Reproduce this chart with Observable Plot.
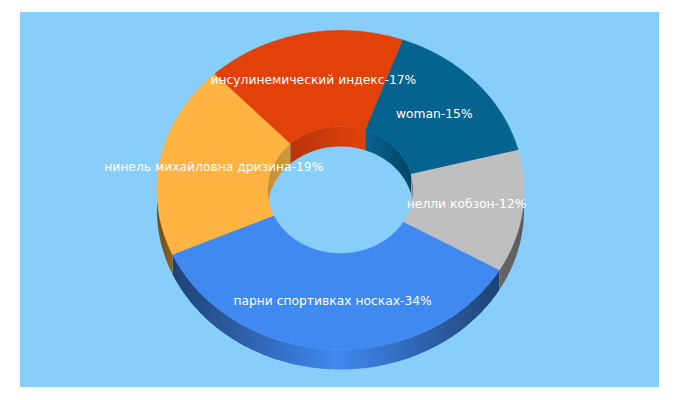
<!DOCTYPE html>
<html><head><meta charset="utf-8">
<style>html,body{margin:0;padding:0;background:#fff}svg{display:block}</style>
<script src="https://cdn.jsdelivr.net/npm/d3@7"></script>
<script src="https://cdn.jsdelivr.net/npm/@observablehq/plot@0.6"></script>
</head><body><div id="chart"></div>
<script>
const names = ["парни спортивках носках","нинель михайловна дризина","инсулинемический индекс","woman","нелли кобзон"];
const shares = [34,19,17,15,12];
const topColors = ["#4089f1","#ffb340","#e2410a","#05638f","#bfbfbf"];
const outerWall = [
  [[0,"#1f4274"],[.5,"#4089f1"],[1,"#1f4274"]],
  [[0,"#6b4c1c"],[1,"#8c6425"]],
  [[0,"#e2410a"],[1,"#e2410a"]],
  [[0,"#05638f"],[1,"#05638f"]],
  [[0,"#666666"],[1,"#5c5c5c"]]
];
const innerWall = [
  [[0,"#4089f1"],[1,"#4089f1"]],
  [[0,"#c98f35"],[1,"#c99a3c"]],
  [[0,"#b8340a"],[1,"#e2410a"]],
  [[0,"#05638f"],[1,"#044566"]],
  [[0,"#9a9a9a"],[1,"#7a7a7a"]]
];
const startAngle = 120, rx = 183.5, ry = 159.5, hx = 73, hy = 63.5, depth = 20;

const total = d3.sum(shares);
let acc = startAngle;
const slices = names.map((name,i)=>{
  const a0 = acc, a1 = acc + shares[i]/total*360; acc = a1;
  return {name, share:shares[i], a0, a1, i};
});
const pt = (a,rxx,ryy,dy=0)=>{const t=a*Math.PI/180;return {x:rxx*Math.sin(t),y:ryy*Math.cos(t)-dy};};
const arc = (a0,a1,rxx,ryy,dy=0)=>{
  const n=Math.max(2,Math.ceil(Math.abs(a1-a0)));
  return d3.range(n+1).map(k=>pt(a0+(a1-a0)*k/n,rxx,ryy,dy));
};
const overlap = (a0,a1,lo,hi)=>{
  for (const s of [-360,0,360]) {
    const b0=Math.max(a0,lo+s), b1=Math.min(a1,hi+s);
    if (b1>b0) return [b0,b1];
  }
  return null;
};
const wall = (s,lo,hi,rxx,ryy)=>{
  const o=overlap(s.a0,s.a1,lo,hi);
  return o?[...arc(o[0],o[1],rxx,ryy),...arc(o[1],o[0],rxx,ryy,depth)]:null;
};
const polyMark=(pts,fill,stroke)=>Plot.line(pts,{x:"x",y:"y",fill,stroke:stroke||"none",strokeWidth:stroke?0.6:0,curve:"linear"});

const defs = ()=>{
  const ns="http://www.w3.org/2000/svg";
  const d=document.createElementNS(ns,"defs");
  const add=(id,stops)=>{
    const g=document.createElementNS(ns,"linearGradient");
    g.setAttribute("id",id);
    for(const [o,c] of stops){
      const st=document.createElementNS(ns,"stop");
      st.setAttribute("offset",o);st.setAttribute("stop-color",c);g.appendChild(st);
    }
    d.appendChild(g);
  };
  outerWall.forEach((s,i)=>add("ow"+i,s));
  innerWall.forEach((s,i)=>add("iw"+i,s));
  return d;
};

const marks=[Plot.frame({fill:"#87cefa",stroke:"none"}),defs];
for(const s of slices){const p=wall(s,90,270,rx,ry); if(p) marks.push(polyMark(p,`url(#ow${s.i})`));}
for(const s of slices){const p=wall(s,-90,90,hx,hy); if(p) marks.push(polyMark(p,`url(#iw${s.i})`));}
for(const s of slices){
  marks.push(polyMark([...arc(s.a0,s.a1,rx,ry),...arc(s.a1,s.a0,hx,hy)],topColors[s.i],topColors[s.i]));
}
const labels=slices.map(s=>{
  const p=pt((s.a0+s.a1)/2,(rx+hx)/2,(ry+hy)/2);
  return {...p,text:`${s.name}-${s.share}%`};
});
marks.push(Plot.text(labels,{x:"x",y:"y",text:"text",fill:"#fff",fontSize:12.3,fontFamily:"DejaVu Sans",textAnchor:"middle",lineAnchor:"middle",dx:-1,dy:-0.5}));

document.getElementById("chart").append(Plot.plot({
  width:680,height:400,
  marginLeft:19.5,marginRight:21.5,marginTop:11.5,marginBottom:13.5,
  x:{domain:[-320.5,318.5],axis:null},
  y:{domain:[-197,178],axis:null},
  style:{background:"#fff"},
  marks
}));
</script></body></html>
